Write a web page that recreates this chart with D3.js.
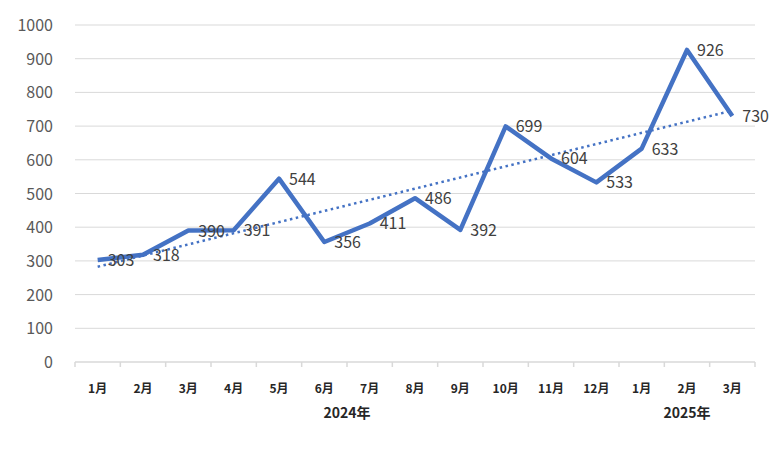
<!DOCTYPE html>
<html><head><meta charset="utf-8">
<script src="https://cdn.jsdelivr.net/npm/d3@7"></script>
<style>body{margin:0;background:#fff}text{font-family:"Noto Sans CJK JP","Noto Sans",sans-serif}</style>
</head><body>
<svg id="c" width="780" height="450"></svg>
<script>
var months = ['1月','2月','3月','4月','5月','6月','7月','8月','9月','10月','11月','12月','1月','2月','3月'];
var values = [303,318,390,391,544,356,411,486,392,699,604,533,633,926,730];
var years = [{label:'2024年', from:0, to:11}, {label:'2025年', from:12, to:14}];
var yTicks = [0,100,200,300,400,500,600,700,800,900,1000];

var svg = d3.select('#c');
var plotLeft = 75, plotRight = 755, plotTop = 25, plotBottom = 362;
var idx = d3.range(values.length);
var x = d3.scaleBand().domain(idx).range([plotLeft, plotRight]);
var y = d3.scaleLinear().domain([0, 1000]).range([plotBottom, plotTop]);
var cx = function(i) { return x(i) + x.bandwidth() / 2; };

// grid
svg.append('g').selectAll('line').data(yTicks.slice(1)).enter().append('line')
	.attr('x1', plotLeft).attr('x2', plotRight)
	.attr('y1', function(d) { return y(d); }).attr('y2', function(d) { return y(d); })
	.style('stroke', '#d9d9d9').style('stroke-width', 1);
svg.append('g').selectAll('text').data(yTicks).enter().append('text')
	.attr('x', 53).attr('y', function(d) { return y(d) + 6; })
	.attr('text-anchor', 'end').style('font-size', '16px').style('fill', '#595959')
	.text(function(d) { return d; });

// x axis
svg.append('line').attr('x1', plotLeft).attr('x2', plotRight).attr('y1', plotBottom).attr('y2', plotBottom)
	.style('stroke', '#d9d9d9').style('stroke-width', 1.5);
svg.append('g').selectAll('line').data(d3.range(values.length + 1)).enter().append('line')
	.attr('x1', function(i) { return plotLeft + i * x.bandwidth(); })
	.attr('x2', function(i) { return plotLeft + i * x.bandwidth(); })
	.attr('y1', plotBottom).attr('y2', plotBottom + 5)
	.style('stroke', '#d9d9d9').style('stroke-width', 1.5);
svg.append('g').selectAll('text').data(idx).enter().append('text')
	.attr('x', cx).attr('y', 393).attr('text-anchor', 'middle')
	.style('font-size', '12px').style('font-weight', 'bold').style('fill', '#262626')
	.text(function(i) { return months[i]; });
svg.append('g').selectAll('text').data(years).enter().append('text')
	.attr('x', function(d) { return (cx(d.from) + cx(d.to)) / 2; })
	.attr('y', 418).attr('text-anchor', 'middle')
	.style('font-size', '14px').style('font-weight', 'bold').style('fill', '#262626')
	.text(function(d) { return d.label; });

// line
var line = d3.line().x(function(d, i) { return cx(i); }).y(function(d) { return y(d); });
svg.append('path').datum(values).attr('d', line)
	.style('fill', 'none').style('stroke', '#4472c4').style('stroke-width', 4.5)
	.style('stroke-linejoin', 'round');

// linear trend
var n = values.length, mx = d3.mean(idx), my = d3.mean(values);
var slope = d3.sum(idx, function(i) { return (i - mx) * (values[i] - my); }) / d3.sum(idx, function(i) { return (i - mx) * (i - mx); });
var trend = [0, n - 1].map(function(i) { return [cx(i), y(my + slope * (i - mx))]; });
svg.append('path').attr('d', d3.line()(trend))
	.style('fill', 'none').style('stroke', '#4472c4').style('stroke-width', 2.5)
	.style('stroke-dasharray', '2.5,3.5');

// labels
svg.append('g').selectAll('text').data(values).enter().append('text')
	.attr('x', function(d, i) { return cx(i) + 10; })
	.attr('y', function(d) { return y(d) + 6; })
	.style('font-size', '16px').style('fill', '#404040')
	.text(function(d) { return d; });
</script>
</body></html>
